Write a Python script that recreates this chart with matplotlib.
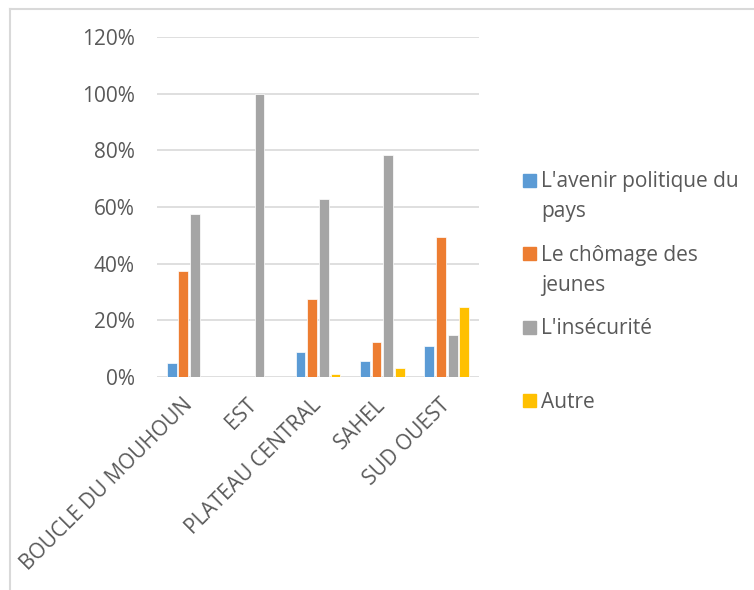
import numpy as np
import matplotlib.pyplot as plt
from matplotlib.patches import Rectangle
from matplotlib.lines import Line2D
from matplotlib.ticker import PercentFormatter

plt.rcParams['font.family'] = ['Open Sans', 'DejaVu Sans']

regions = ['BOUCLE DU MOUHOUN', 'EST', 'PLATEAU CENTRAL', 'SAHEL', 'SUD OUEST']
series = ["L'avenir politique du\npays", 'Le chômage des\njeunes', "L'insécurité", 'Autre']
avenir = [0.047, 0.0, 0.086, 0.055, 0.109]
chomage = [0.372, 0.0, 0.274, 0.123, 0.494]
insecurite = [0.577, 1.0, 0.627, 0.785, 0.148]
autre = [0.0, 0.0, 0.008, 0.032, 0.246]
values = [avenir, chomage, insecurite, autre]
colors = ['#5B9BD5', '#ED7D31', '#A5A5A5', '#FFC000']
txt = '#595959'
grid = '#D9D9D9'
fs = 15

fig = plt.figure(figsize=(7.54, 5.9), dpi=100)
ax = fig.add_axes([157/754, 1-376.7/590, 322/754, 339.4/590])

x = np.arange(len(regions))
slot = 0.181
w = 0.152
for i, (vals, c) in enumerate(zip(values, colors)):
    ax.bar(x + (i - 1.5)*slot, vals, w, color=c, edgecolor='white', linewidth=0.5, zorder=3)

ax.set_xlim(-0.5, len(regions)-0.5)
ax.set_ylim(0, 1.2)
ax.set_yticks(np.arange(0, 1.21, 0.2))
ax.yaxis.set_major_formatter(PercentFormatter(1.0, decimals=0))
ax.grid(axis='y', color=grid, linewidth=1.2, zorder=0)
for s in ax.spines.values():
    s.set_visible(False)
ax.tick_params(axis='both', length=0, labelsize=fs, labelcolor=txt)
ax.tick_params(axis='y', pad=16)
ax.set_xticks(x)
ax.set_xticklabels(regions, rotation=45, ha='right', va='center', rotation_mode='anchor')
ax.tick_params(axis='x', pad=18)

# legend drawn by hand (Excel spaces entries evenly)
ys = [180, 253.3, 327, 400]
for lab, c, yc in zip(series, colors, ys):
    fig.patches.append(Rectangle((523/754, 1-(yc+6.5)/590), 13/754, 13/590,
                                 transform=fig.transFigure, color=c))
    for k, line in enumerate(lab.split('\n')):
        fig.text(541/754, 1-(yc+7.5+30*k)/590, line, fontsize=fs, color=txt, va='baseline', ha='left')

# chart border
fig.lines.append(Line2D([10/754, 1], [1-9/590, 1-9/590], transform=fig.transFigure, color=grid, lw=1.5))
fig.lines.append(Line2D([10/754, 10/754], [0, 1-9/590], transform=fig.transFigure, color=grid, lw=1.5))

fig.savefig('out.png', dpi=100, facecolor='white')
